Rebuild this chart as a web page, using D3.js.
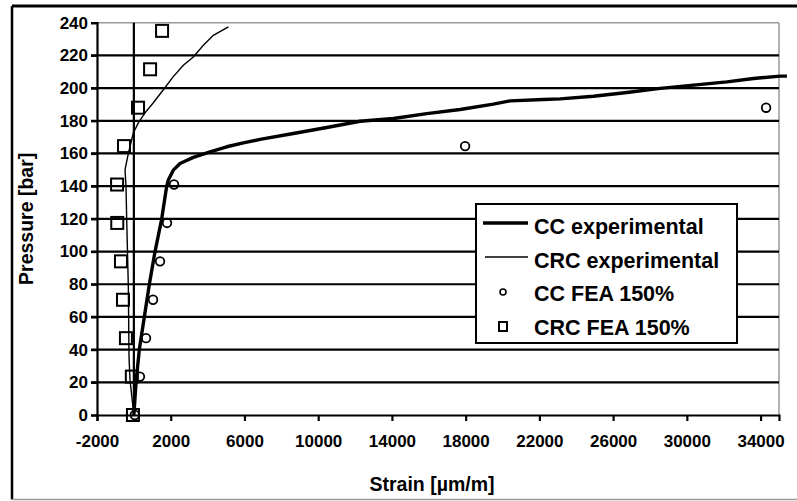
<!DOCTYPE html>
<html>
<head>
<meta charset="utf-8">
<script src="https://cdn.jsdelivr.net/npm/d3@7/dist/d3.min.js"></script>
<style>
  html, body { margin: 0; padding: 0; background: #fff; }
  svg { display: block; }
  text { font-family: "Liberation Sans", Arial, sans-serif; font-weight: bold; fill: #000; }
</style>
</head>
<body>
<svg id="chart" width="797" height="501"></svg>
<script>
// Strain (µm/m) and pressure (bar) readings for each series
const ccExpStrain   = [0, 117, 296, 567, 840, 1148, 1511, 1780, 1870, 2140, 2504, 3226, 4133, 5039, 5940, 6846, 8654, 10466, 12273, 14080, 15893, 17700, 19508, 20413, 22221, 23127, 24935, 26748, 28555, 30362, 32175, 33619, 35068, 35430];
const ccExpPressure = [0, 20, 40, 60, 80, 100, 120, 140, 143.7, 149.8, 153.9, 157.6, 161, 164.1, 166.5, 168.6, 172.2, 175.9, 179.7, 181.4, 184.4, 186.9, 190.2, 192.2, 193, 193.4, 195, 197.3, 199.8, 201.8, 203.8, 205.9, 207.3, 207.3];

const crcExpStrain   = [0, -209, -263, -300, -390, -426, -480, -300, -170, -30, 240, 605, 1056, 1600, 2140, 2684, 3226, 3769, 4312, 5126];
const crcExpPressure = [0, 21.4, 35.7, 78.5, 120, 140, 150, 160, 166, 172.6, 178.7, 184.8, 191, 199, 207, 214, 219, 226.2, 232.3, 237.4];

const ccFeaStrain   = [50, 330, 660, 1040, 1420, 1800, 2180, 17970, 34300];
const ccFeaPressure = [0, 23.5, 47, 70.5, 94, 117.5, 141, 164.5, 188];

const crcFeaStrain   = [-50, -110, -430, -590, -700, -900, -910, -535, 225, 880, 1530];
const crcFeaPressure = [0, 23.5, 47, 70.5, 94, 117.5, 141, 164.5, 188, 211.5, 235];

const xTicks = [-2000, 2000, 6000, 10000, 14000, 18000, 22000, 26000, 30000, 34000];
const yTicks = [0, 20, 40, 60, 80, 100, 120, 140, 160, 180, 200, 220, 240];

const legendLabels = ["CC experimental", "CRC experimental", "CC FEA 150%", "CRC FEA 150%"];

const svg = d3.select("#chart");

const x = d3.scaleLinear().domain([-2000, 35000]).range([97, 779]);
const y = d3.scaleLinear().domain([0, 240]).range([415, 22.7]);

// plain hyphen for negative tick values
const tickFmt = d => String(d);

// outer frame
svg.append("line").attr("x1", 12).attr("x2", 797).attr("y1", 6).attr("y2", 6)
  .attr("stroke", "#000").attr("stroke-width", 3);
svg.append("line").attr("x1", 12).attr("x2", 12).attr("y1", 6).attr("y2", 499.5)
  .attr("stroke", "#000").attr("stroke-width", 2.5);
svg.append("line").attr("x1", 12).attr("x2", 797).attr("y1", 499.5).attr("y2", 499.5)
  .attr("stroke", "#999").attr("stroke-width", 1.5);

// plot area border (top and right in grey)
svg.append("line").attr("x1", x(-2000)).attr("x2", x(35000)).attr("y1", y(240)).attr("y2", y(240))
  .attr("stroke", "#999").attr("stroke-width", 1.5);
svg.append("line").attr("x1", x(35000)).attr("x2", x(35000)).attr("y1", y(240)).attr("y2", y(0))
  .attr("stroke", "#999").attr("stroke-width", 1.5);

// horizontal gridlines with outward ticks on the left
svg.append("g").selectAll("line")
  .data(yTicks.filter(d => d > 0 && d < 240))
  .join("line")
  .attr("x1", x(-2000) - 6).attr("x2", x(35000))
  .attr("y1", d => y(d)).attr("y2", d => y(d))
  .attr("stroke", "#000").attr("stroke-width", 2.2);

// y axis with labels on the left edge
const yAxis = svg.append("g")
  .attr("transform", `translate(${x(-2000)},0)`)
  .call(d3.axisLeft(y).tickValues(yTicks).tickSize(6).tickPadding(3).tickFormat(tickFmt));
yAxis.select(".domain").attr("stroke", "#000").attr("stroke-width", 2.2);
yAxis.selectAll(".tick line").attr("stroke", "#000").attr("stroke-width", 2.2);
yAxis.selectAll(".tick text").style("font-size", "17px").attr("font-family", null);

// vertical axis line through zero strain
svg.append("line").attr("x1", x(0)).attr("x2", x(0)).attr("y1", y(240)).attr("y2", y(0))
  .attr("stroke", "#000").attr("stroke-width", 2.2);

// x axis at the bottom
const xAxis = svg.append("g")
  .attr("transform", `translate(0,${y(0)})`)
  .call(d3.axisBottom(x).tickValues(xTicks).tickSize(6).tickPadding(14).tickFormat(tickFmt));
xAxis.select(".domain").attr("stroke", "#000").attr("stroke-width", 2.2);
xAxis.selectAll(".tick line").attr("stroke", "#000").attr("stroke-width", 2.2);
xAxis.selectAll(".tick text").style("font-size", "17px").attr("font-family", null);

// axis titles
svg.append("text").attr("x", 432).attr("y", 491)
  .attr("text-anchor", "middle").style("font-size", "19.5px").text("Strain [µm/m]");
svg.append("text")
  .attr("transform", `translate(33,${(y(0) + y(240)) / 2}) rotate(-90)`)
  .attr("text-anchor", "middle").style("font-size", "19.5px").text("Pressure [bar]");

// experimental curves
const line = d3.line().x(d => x(d[0])).y(d => y(d[1]));
svg.append("path").datum(d3.zip(crcExpStrain, crcExpPressure))
  .attr("d", line).attr("fill", "none").attr("stroke", "#000").attr("stroke-width", 1.4);
svg.append("path").datum(d3.zip(ccExpStrain, ccExpPressure))
  .attr("d", line).attr("fill", "none").attr("stroke", "#000").attr("stroke-width", 3.4)
  .attr("stroke-linejoin", "round");

// FEA markers
svg.append("g").selectAll("circle")
  .data(d3.zip(ccFeaStrain, ccFeaPressure))
  .join("circle")
  .attr("cx", d => x(d[0])).attr("cy", d => y(d[1])).attr("r", 4.3)
  .attr("fill", "none").attr("stroke", "#000").attr("stroke-width", 1.8);
svg.append("g").selectAll("rect")
  .data(d3.zip(crcFeaStrain, crcFeaPressure))
  .join("rect")
  .attr("x", d => x(d[0]) - 6).attr("y", d => y(d[1]) - 6)
  .attr("width", 12).attr("height", 12)
  .attr("fill", "none").attr("stroke", "#000").attr("stroke-width", 2);

// legend
const lg = svg.append("g");
lg.append("rect").attr("x", 476).attr("y", 204).attr("width", 261).attr("height", 139)
  .attr("fill", "#fff").attr("stroke", "#000").attr("stroke-width", 2);
const rowsY = [226, 260, 293, 327];
lg.append("line").attr("x1", 483).attr("x2", 528).attr("y1", rowsY[0] - 3).attr("y2", rowsY[0] - 3)
  .attr("stroke", "#000").attr("stroke-width", 3.4);
lg.append("line").attr("x1", 485).attr("x2", 528).attr("y1", rowsY[1] - 3).attr("y2", rowsY[1] - 3)
  .attr("stroke", "#000").attr("stroke-width", 1.6);
lg.append("circle").attr("cx", 503).attr("cy", rowsY[2] - 1).attr("r", 3)
  .attr("fill", "none").attr("stroke", "#000").attr("stroke-width", 1.6);
lg.append("rect").attr("x", 499).attr("y", rowsY[3] - 5).attr("width", 8).attr("height", 9)
  .attr("fill", "none").attr("stroke", "#000").attr("stroke-width", 2);
lg.selectAll("text.lab").data(legendLabels).join("text").attr("class", "lab")
  .attr("x", 534).attr("y", (d, i) => rowsY[i]).attr("dy", "0.35em")
  .style("font-size", "21.5px").text(d => d);
</script>
</body>
</html>
